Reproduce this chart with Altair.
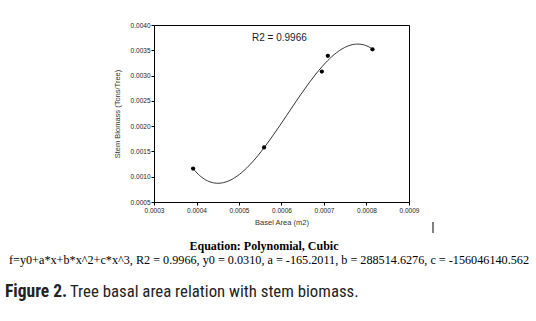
import altair as alt
import pandas as pd

# Data
basal_area = [0.000392, 0.000559, 0.000695, 0.000709, 0.000814]
stem_biomass = [0.00116, 0.00158, 0.00308, 0.00339, 0.00352]

x_ticks = [0.0003, 0.0004, 0.0005, 0.0006, 0.0007, 0.0008, 0.0009]
y_ticks = [0.0005, 0.0010, 0.0015, 0.0020, 0.0025, 0.0030, 0.0035, 0.0040]

r2_text = "R2 = 0.9966"
heading_text = "Equation: Polynomial, Cubic"
equation_text = ("f=y0+a*x+b*x^2+c*x^3, R2 = 0.9966, y0 = 0.0310, a = -165.2011, "
                 "b = 288514.6276, c = -156046140.562")
fig_label = "Figure 2."
fig_caption = "Tree basal area relation with stem biomass."
x_title = "Basel Area (m2)"
y_title = "Stem Biomass (Tons/Tree)"

df = pd.DataFrame({"x": basal_area, "y": stem_biomass})

W, H = 255, 177
PL, PT = 154, 25

xscale = alt.Scale(domain=[0.0003, 0.0009], nice=False, zero=False)
yscale = alt.Scale(domain=[0.0005, 0.0040], nice=False, zero=False)

xaxis = alt.Axis(title=x_title, values=x_ticks, tickCount=len(x_ticks), format=".4f", grid=False,
                 labelFontSize=6.5, labelFont="Liberation Sans", labelColor="#222",
                 titleFontSize=7.5, titleFont="Liberation Sans", titleFontWeight="normal",
                 titleColor="#333", titlePadding=5, tickSize=3, labelPadding=2,
                 domainColor="black", tickColor="black", labelFlush=False,
                 labelOverlap=False)
yaxis = alt.Axis(title=y_title, values=y_ticks, tickCount=len(y_ticks), format=".4f", grid=False,
                 labelFontSize=6.5, labelFont="Liberation Sans", labelColor="#222",
                 titleFontSize=7.5, titleFont="Liberation Sans", titleFontWeight="normal",
                 titleColor="#333", titlePadding=9, tickSize=3, labelPadding=1,
                 domainColor="black", tickColor="black", labelFlush=False,
                 labelOverlap=False)

base = alt.Chart(df)

curve = base.transform_calculate(
    xs="datum.x * 10000", ys="datum.y * 1000"
).transform_regression(
    "xs", "ys", method="poly", order=3, extent=[3.92, 8.14]
).transform_calculate(
    x="datum.xs / 10000", y="datum.ys / 1000"
).mark_line(color="black", strokeWidth=0.8).encode(
    x=alt.X("x:Q", scale=xscale, axis=xaxis),
    y=alt.Y("y:Q", scale=yscale, axis=yaxis),
)

points = base.mark_point(filled=True, color="black", size=18, opacity=1).encode(
    x=alt.X("x:Q", scale=xscale, axis=xaxis),
    y=alt.Y("y:Q", scale=yscale, axis=yaxis),
)

def txt(text, x, y, size, font, weight="normal", align="left", color="#111"):
    return alt.Chart(pd.DataFrame({"t": [text]})).mark_text(
        align=align, baseline="alphabetic", fontSize=size, font=font,
        fontWeight=weight, color=color
    ).encode(text="t:N", x=alt.value(x), y=alt.value(y))

CAP_FONT = "Roboto Condensed, Liberation Sans Narrow, Roboto"
r2 = txt(r2_text, 252 - PL, 41 - PT, 10, "Liberation Sans", color="#1a1a33")
heading = txt(heading_text, 264 - PL, 250 - PT, 12, "Liberation Serif", weight="bold", align="center", color="black")
equation = txt(equation_text, 269 - PL, 264 - PT, 12.2, "Liberation Serif", align="center", color="black")
cap1 = txt(fig_label, 5 - PL, 297 - PT, 17.5, CAP_FONT, weight="bold", align="left", color="#222")
cap2 = txt(fig_caption, 70 - PL, 297 - PT, 16.8, CAP_FONT, color="#222")
cursor = alt.Chart(pd.DataFrame({"a": [0]})).mark_rule(color="black", strokeWidth=1).encode(
    x=alt.value(433 - PL), y=alt.value(222 - PT), y2=alt.value(233 - PT)
)

chart = alt.layer(curve, points, r2, heading, equation, cap1, cap2, cursor).properties(
    width=W, height=H,
    autosize=alt.AutoSizeParams(type="none"),
    padding={"left": PL, "top": PT, "right": 536 - PL - W, "bottom": 321 - PT - H},
    background="white",
).configure_view(stroke="black", strokeWidth=1)

chart.save("out.html", embed_options={"renderer": "svg", "actions": False})
